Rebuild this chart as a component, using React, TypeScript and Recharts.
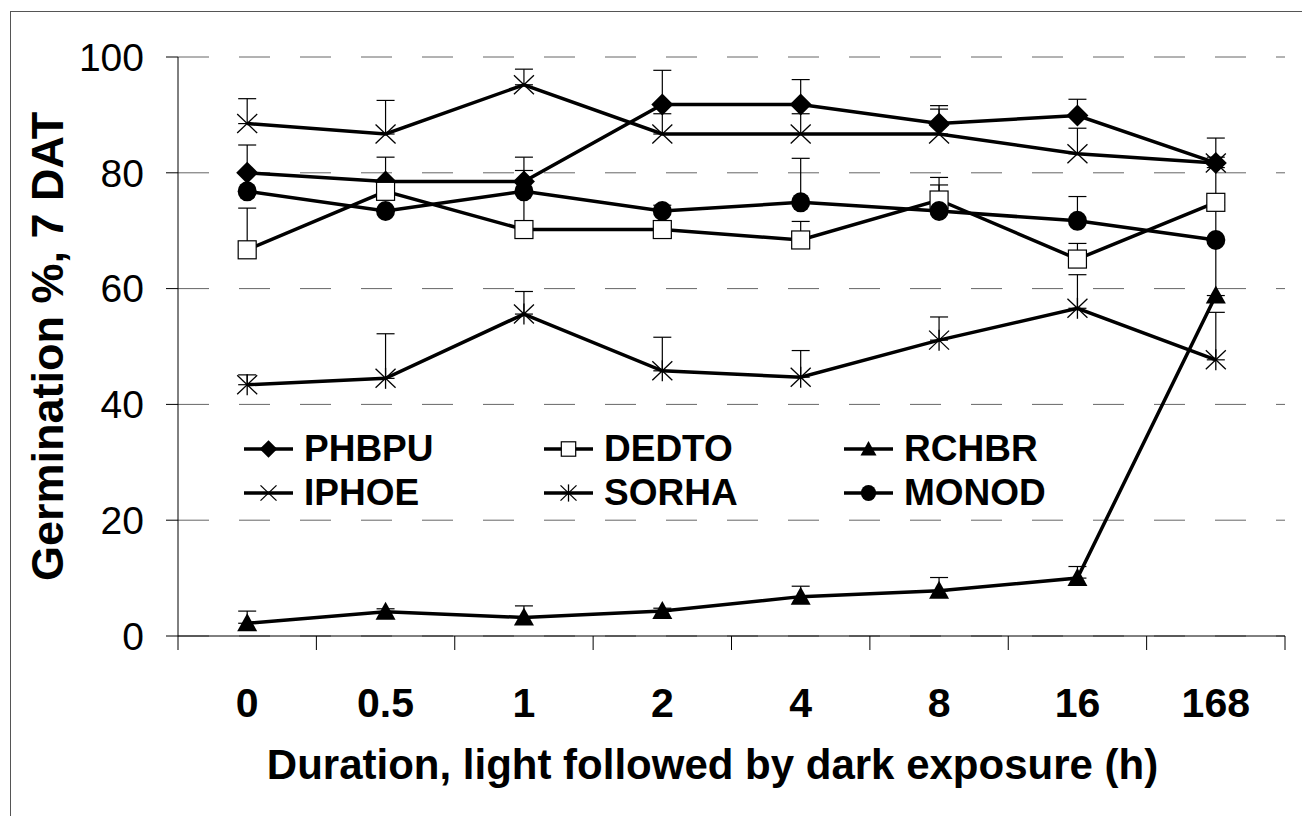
import React from 'react'
import { LineChart, Line, XAxis, YAxis, CartesianGrid, ErrorBar, Label } from 'recharts'

// hours of light before dark exposure
const durations = ['0', '0.5', '1', '2', '4', '8', '16', '168']
const yTicks = [0, 20, 40, 60, 80, 100]

const phbpu = [80.0, 78.5, 78.5, 91.8, 91.8, 88.5, 89.9, 81.7]
const phbpuErr = [4.8, 4.2, 4.2, 5.9, 4.3, 3.1, 2.8, 4.3]
const dedto = [66.7, 76.8, 70.2, 70.2, 68.4, 75.3, 65.1, 74.9]
const dedtoErr = [7.2, 1.0, 10.2, 0.5, 3.2, 3.9, 2.7, 6.0]
const rchbr = [2.2, 4.2, 3.2, 4.3, 6.8, 7.8, 10.0, 58.8]
const rchbrErr = [2.1, 0.5, 2.0, 0.5, 1.8, 2.3, 2.0, 9.5]
const iphoe = [88.5, 86.7, 95.2, 86.7, 86.7, 86.7, 83.3, 81.7]
const iphoeErr = [4.3, 5.8, 2.7, 3.5, 3.5, 4.3, 4.4, 1.0]
const sorha = [43.4, 44.5, 55.6, 45.8, 44.7, 51.1, 56.6, 47.7]
const sorhaErr = [1.7, 7.7, 3.9, 5.8, 4.6, 4.0, 5.8, 8.2]
const monod = [76.8, 73.4, 76.8, 73.4, 74.9, 73.4, 71.7, 68.4]
const monodErr = [0, 0, 0, 1.0, 7.6, 4.5, 4.2, 6.0]

const series = [
  { name: 'PHBPU', values: phbpu, errs: phbpuErr, marker: 'diamond' },
  { name: 'DEDTO', values: dedto, errs: dedtoErr, marker: 'square' },
  { name: 'RCHBR', values: rchbr, errs: rchbrErr, marker: 'triangle' },
  { name: 'IPHOE', values: iphoe, errs: iphoeErr, marker: 'cross' },
  { name: 'SORHA', values: sorha, errs: sorhaErr, marker: 'star' },
  { name: 'MONOD', values: monod, errs: monodErr, marker: 'circle' },
]

const data = durations.map((d, i) => {
  const row: any = { x: i + 0.5, label: d }
  series.forEach(s => {
    row[s.name] = s.values[i]
    row[s.name + '_err'] = [0, s.errs[i]]
  })
  return row
})

// band edges get tick marks, band centres get the labels
const xTicks = durations
  .flatMap((_, i) => [i, i + 0.5])
  .concat(durations.length)

const FONT = '"Liberation Sans", Arial, sans-serif'

function Marker({ kind, cx, cy, s = 1 }: { kind: string; cx: number; cy: number; s?: number }) {
  switch (kind) {
    case 'diamond': {
      const r = 11 * s
      return <polygon points={`${cx},${cy - r} ${cx + r},${cy} ${cx},${cy + r} ${cx - r},${cy}`} fill="#000" />
    }
    case 'square': {
      const h = 9 * s
      return <rect x={cx - h} y={cy - h} width={2 * h} height={2 * h} fill="#fff" stroke="#000" strokeWidth={1.2} />
    }
    case 'triangle': {
      const h = 10 * s
      return <polygon points={`${cx},${cy - h} ${cx + h},${cy + h * 0.8} ${cx - h},${cy + h * 0.8}`} fill="#000" />
    }
    case 'circle':
      return <ellipse cx={cx} cy={cy} rx={9.5 * s} ry={10 * s} fill="#000" />
    case 'cross':
    case 'star': {
      const w = 10 * s
      const h = 9.5 * s
      return (
        <g stroke="#000" strokeWidth={1.3}>
          <line x1={cx - w} y1={cy - h} x2={cx + w} y2={cy + h} />
          <line x1={cx - w} y1={cy + h} x2={cx + w} y2={cy - h} />
          {kind === 'star' && <line x1={cx} y1={cy - h - 1} x2={cx} y2={cy + h + 1} />}
        </g>
      )
    }
  }
  return null
}

function XTick(props: any) {
  const { x, y, payload } = props
  const v = payload.value
  if (Number.isInteger(v)) {
    return <line x1={x} x2={x} y1={y} y2={y + 14} stroke="#000" strokeWidth={1} />
  }
  return (
    <text x={x} y={y + 81} textAnchor="middle" fontSize={41} fontWeight="bold" fontFamily={FONT} fill="#000">
      {durations[Math.floor(v)]}
    </text>
  )
}

function LegendBox() {
  return (
    <div
      style={{
        position: 'absolute',
        left: 244,
        top: 427,
        display: 'grid',
        gridTemplateColumns: '300px 300px 300px',
        gridAutoRows: '44px',
        fontFamily: FONT,
        fontWeight: 'bold',
        fontSize: 37,
        color: '#000',
      }}
    >
      {series.map(s => (
        <div key={s.name} style={{ display: 'flex', alignItems: 'center', height: 44 }}>
          <svg width={60} height={44} style={{ flex: 'none' }}>
            <line x1={0} x2={49} y1={22} y2={22} stroke="#000" strokeWidth={3.5} />
            <Marker kind={s.marker} cx={24.5} cy={22} s={0.8} />
          </svg>
          <span style={{ lineHeight: '44px' }}>{s.name}</span>
        </div>
      ))}
    </div>
  )
}

export default function App() {
  return (
    <div style={{ position: 'relative', width: 1302, height: 816, overflow: 'hidden', background: '#fff' }}>
      <style>{'body{margin:0}'}</style>
      <div
        style={{
          position: 'absolute',
          left: 10,
          top: 11,
          width: 1400,
          height: 900,
          border: '1px solid #555',
          boxSizing: 'border-box',
        }}
      />
      <LineChart width={1302} height={816} data={data} margin={{ top: 57, right: 17, left: 0, bottom: 0 }}>
        <CartesianGrid vertical={false} stroke="#666" strokeDasharray="31 30" />
        <XAxis
          dataKey="x"
          type="number"
          domain={[0, durations.length]}
          ticks={xTicks}
          interval={0}
          height={180}
          tickSize={0}
          tickMargin={0}
          tickLine={false}
          axisLine={{ stroke: '#000' }}
          tick={<XTick />}
          label={
            <Label
              content={(p: any) => (
                <text
                  x={p.viewBox.x + p.viewBox.width / 2 - 19}
                  y={779}
                  textAnchor="middle"
                  fontSize={42}
                  fontWeight="bold"
                  fontFamily={FONT}
                  fill="#000"
                >
                  Duration, light followed by dark exposure (h)
                </text>
              )}
            />
          }
        />
        <YAxis
          domain={[0, 100]}
          ticks={yTicks}
          interval={0}
          width={178}
          tickSize={12}
          tickMargin={22}
          axisLine={{ stroke: '#000' }}
          tickLine={{ stroke: '#000' }}
          tick={{ fontSize: 39, fill: '#000', fontFamily: FONT }}
          label={
            <Label
              content={(p: any) => (
                <text
                  transform={`translate(63, ${p.viewBox.y + p.viewBox.height / 2}) rotate(-90)`}
                  textAnchor="middle"
                  fontSize={45}
                  fontWeight="bold"
                  fontFamily={FONT}
                  fill="#000"
                >
                  Germination %, 7 DAT
                </text>
              )}
            />
          }
        />
        <YAxis
          yAxisId="edge"
          orientation="right"
          domain={[0, 100]}
          width={0}
          tick={false}
          tickLine={false}
          axisLine={{ stroke: '#555', strokeDasharray: '31 30' }}
        />
        {series.map(s => (
          <Line
            key={s.name}
            dataKey={s.name}
            stroke="#000"
            strokeWidth={3.5}
            isAnimationActive={false}
            activeDot={false}
            dot={(p: any) => <Marker key={`${s.name}-${p.index}`} kind={s.marker} cx={p.cx} cy={p.cy} />}
          >
            <ErrorBar dataKey={s.name + '_err'} direction="y" width={9} stroke="#000" strokeWidth={1.2} />
          </Line>
        ))}
      </LineChart>
      <LegendBox />
    </div>
  )
}
